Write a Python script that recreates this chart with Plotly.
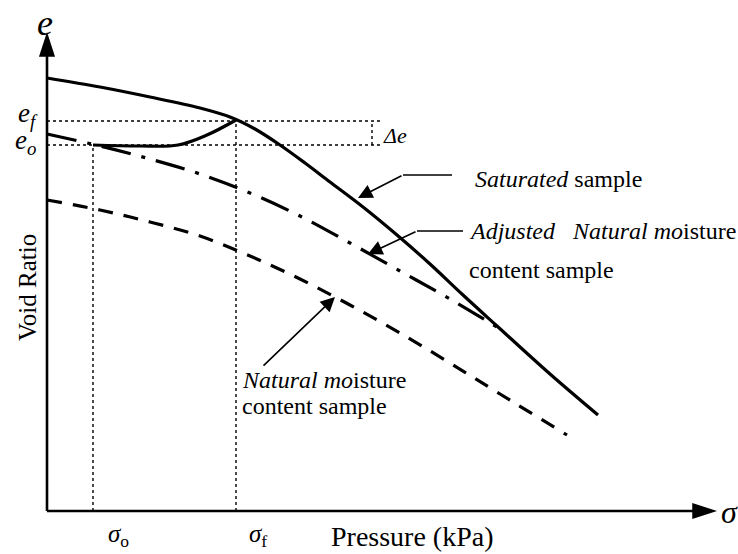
import plotly.graph_objects as go

# ---- data (schematic units: pressure on x, void ratio on y) ----
sat_p = [0, 53, 103, 153, 183, 208, 233, 258, 283, 316, 350, 383, 416, 450, 503, 551]
sat_e = [433, 424, 414, 403, 394, 382, 366, 348, 329, 304, 276, 247, 216, 185, 137, 96]

wet_p = [46, 93, 131, 160, 189]
wet_e = [366, 365, 366, 376, 391]

adj_p = [0, 53, 103, 153, 203, 253, 303, 353, 403, 458]
adj_e = [377, 365, 352, 337, 318, 295, 268, 240, 212, 179]

nat_p = [0, 53, 103, 153, 203, 253, 303, 353, 403, 453, 520]
nat_e = [311, 301, 289, 275, 255, 232, 206, 178, 148, 117, 76]

sigma_o, sigma_f = 46, 189
e_o, e_f = 366, 390
delta_x, delta_end = 325, 335
x_tip, y_tip = 670, 479

FONT = "Liberation Serif, Times New Roman, serif"
BLACK = "black"

fig = go.Figure()

def dotted(xs, ys):
    fig.add_trace(go.Scatter(x=xs, y=ys, mode="lines",
                             line=dict(color=BLACK, width=1.4, dash="dot"), cliponaxis=False))

# dotted guide lines
dotted([0, delta_end], [e_f, e_f])
dotted([0, delta_end], [e_o, e_o])
dotted([delta_x, delta_x], [e_o, e_f])
dotted([sigma_o, sigma_o], [0, e_o])
dotted([sigma_f, sigma_f], [0, e_f])

# curves
fig.add_trace(go.Scatter(x=sat_p, y=sat_e, mode="lines",
                         line=dict(color=BLACK, width=3.2, shape="spline", smoothing=1), cliponaxis=False))
fig.add_trace(go.Scatter(x=wet_p, y=wet_e, mode="lines",
                         line=dict(color=BLACK, width=3.2, shape="spline", smoothing=1), cliponaxis=False))
fig.add_trace(go.Scatter(x=adj_p, y=adj_e, mode="lines",
                         line=dict(color=BLACK, width=3.2, shape="spline", smoothing=1,
                                   dash="30px,11px,4px,11px"), cliponaxis=False))
fig.add_trace(go.Scatter(x=nat_p, y=nat_e, mode="lines",
                         line=dict(color=BLACK, width=3.2, shape="spline", smoothing=1,
                                   dash="15px,11px"), cliponaxis=False))

# axes
fig.add_trace(go.Scatter(x=[0, 0], y=[0, y_tip - 16], mode="lines",
                         line=dict(color=BLACK, width=2.6), cliponaxis=False))
fig.add_trace(go.Scatter(x=[0, x_tip - 16], y=[0, 0], mode="lines",
                         line=dict(color=BLACK, width=2.6), cliponaxis=False))
fig.add_trace(go.Scatter(x=[0], y=[y_tip], mode="markers", cliponaxis=False,
                         marker=dict(symbol="arrow", size=26, color=BLACK, angle=0,
                                     line=dict(width=0))))
fig.add_trace(go.Scatter(x=[x_tip], y=[0], mode="markers", cliponaxis=False,
                         marker=dict(symbol="arrow", size=26, color=BLACK, angle=90,
                                     line=dict(width=0))))

# callout leader horizontal segments
fig.add_trace(go.Scatter(x=[356, 405], y=[336, 336], mode="lines",
                         line=dict(color=BLACK, width=1.6), cliponaxis=False))
fig.add_trace(go.Scatter(x=[370, 416], y=[280, 280], mode="lines",
                         line=dict(color=BLACK, width=1.6), cliponaxis=False))

anns = []
def arrow(tip, tail):
    anns.append(dict(x=tip[0], y=tip[1], ax=tail[0], ay=tail[1], xref="x", yref="y",
                     axref="x", ayref="y", text="", showarrow=True, arrowhead=2,
                     arrowsize=1.8, arrowwidth=1.6, arrowcolor=BLACK))

arrow((311, 313), (356, 336))
arrow((321, 257), (370, 280))
arrow((288, 214), (215, 144))

def label(x, y, text, size, xanchor="center", yanchor="middle", angle=0):
    anns.append(dict(x=x, y=y, xref="x", yref="y", text=text, showarrow=False,
                     xanchor=xanchor, yanchor=yanchor, textangle=angle,
                     font=dict(family=FONT, size=size, color=BLACK)))

label(-2, 488, "<i>e</i>", 36)
label(-7, 396, "<i>e<sub>f</sub></i>", 27, xanchor="right")
label(-9, 369, "<i>e<sub>o</sub></i>", 27, xanchor="right")
label(348, 376, "<i>Δe</i>", 22, xanchor="center")
label(682, -1, "<i>σ</i>", 32)
label(71, -24, "<i>σ</i><sub>o</sub>", 25)
label(211, -24, "<i>σ</i><sub>f</sub>", 25)
label(365, -25, "Pressure (kPa)", 28)
label(-20, 223, "Void Ratio", 25, angle=-90)
label(426, 332, "<i>Saturated</i> sample", 24, xanchor="left")
label(420, 280, "<i>Adjusted\u00a0\u00a0\u00a0Natural mo</i>isture", 24, xanchor="left")
label(420, 241, "content sample", 24, xanchor="left")
label(193, 131, "<i>Natural mo</i>isture", 24, xanchor="left")
label(193, 105, "content sample", 24, xanchor="left")

fig.update_layout(
    width=738, height=554,
    margin=dict(l=0, r=0, t=0, b=0),
    paper_bgcolor="white", plot_bgcolor="white",
    showlegend=False,
    xaxis=dict(visible=False, range=[-47, 691], fixedrange=True),
    yaxis=dict(visible=False, range=[-43, 511], fixedrange=True),
    annotations=anns,
)

fig.write_html("out.html")
